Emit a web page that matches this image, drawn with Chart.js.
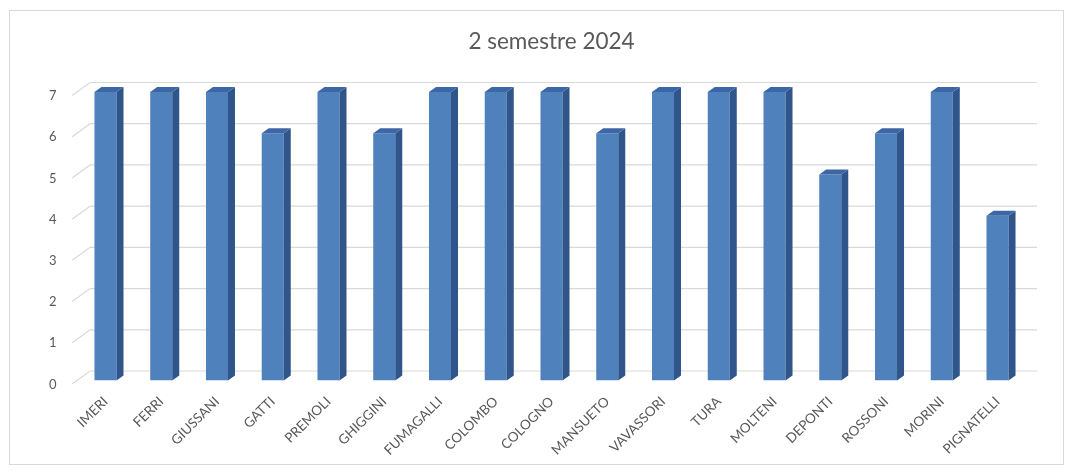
<!DOCTYPE html>
<html>
<head>
<meta charset="utf-8">
<script src="https://cdn.jsdelivr.net/npm/chart.js@4.4.1/dist/chart.umd.min.js"></script>
<style>
  html, body { margin: 0; padding: 0; background: #fff; }
  #wrap { position: relative; width: 1073px; height: 475px; }
</style>
</head>
<body>
<div id="wrap"><canvas id="semChart" width="1073" height="475"></canvas></div>
<script>
// Chart values
const names = ['IMERI', 'FERRI', 'GIUSSANI', 'GATTI', 'PREMOLI', 'GHIGGINI', 'FUMAGALLI', 'COLOMBO',
    'COLOGNO', 'MANSUETO', 'VAVASSORI', 'TURA', 'MOLTENI', 'DEPONTI', 'ROSSONI', 'MORINI', 'PIGNATELLI'];
const scores = [7, 7, 7, 6, 7, 6, 7, 7, 7, 6, 7, 7, 7, 5, 6, 7, 4];
const yTicks = [0, 1, 2, 3, 4, 5, 6, 7];

const FRONT = '#4f81bd';
const SIDE = '#30558b';
const TOP = '#3c66a4';
const GRID = '#d9d9d9';
const TEXT = '#595959';
const DEPTH_X = 7, DEPTH_Y = 5;

// chart frame + back-wall gridlines with the little oblique floor edge
const wallPlugin = {
    id: 'wall',
    beforeDraw(chart) {
        const ctx = chart.ctx;
        ctx.save();
        ctx.strokeStyle = GRID;
        ctx.lineWidth = 1;
        ctx.strokeRect(9.5, 10.5, 1054, 454);
        ctx.restore();
    },
    beforeDatasetsDraw(chart) {
        const ctx = chart.ctx;
        const area = chart.chartArea;
        const y = chart.scales.y;
        ctx.save();
        ctx.strokeStyle = GRID;
        ctx.lineWidth = 1.2;
        yTicks.forEach(v => {
            const yf = y.getPixelForValue(v) + 3.5;
            const yb = yf - 13;
            ctx.beginPath();
            ctx.moveTo(area.left - 5.5, yf);
            ctx.lineTo(area.left + 12.5, yb);
            ctx.lineTo(area.right + 11.5, yb);
            ctx.stroke();
        });
        ctx.restore();
    },
    afterDatasetsDraw(chart) {
        const ctx = chart.ctx;
        const meta = chart.getDatasetMeta(0);
        ctx.save();
        meta.data.forEach(bar => {
            const p = bar.getProps(['x', 'y', 'base', 'width'], true);
            const l = p.x - p.width / 2, r = p.x + p.width / 2;
            // side face
            ctx.fillStyle = SIDE;
            ctx.beginPath();
            ctx.moveTo(r, p.y);
            ctx.lineTo(r + DEPTH_X, p.y - DEPTH_Y);
            ctx.lineTo(r + DEPTH_X, p.base - DEPTH_Y);
            ctx.lineTo(r, p.base);
            ctx.closePath();
            ctx.fill();
            // top face
            ctx.fillStyle = TOP;
            ctx.beginPath();
            ctx.moveTo(l, p.y);
            ctx.lineTo(l + DEPTH_X, p.y - DEPTH_Y);
            ctx.lineTo(r + DEPTH_X, p.y - DEPTH_Y);
            ctx.lineTo(r, p.y);
            ctx.closePath();
            ctx.fill();
        });
        ctx.restore();
    }
};

new Chart(document.getElementById('semChart'), {
    type: 'bar',
    data: {
        labels: names,
        datasets: [{
            data: scores,
            backgroundColor: FRONT,
            borderWidth: 0,
            categoryPercentage: 1,
            barPercentage: 0.395
        }]
    },
    options: {
        responsive: false,
        animation: false,
        devicePixelRatio: 1,
        layout: { padding: { left: 0, right: 47.6, top: 0, bottom: 0 } },
        plugins: {
            legend: { display: false },
            tooltip: { enabled: false },
            title: {
                display: true,
                text: '2 semestre 2024',
                fullSize: false,
                color: TEXT,
                font: { family: 'Lato', size: 22.5, weight: 'normal' },
                padding: { top: 28, bottom: 37 }
            }
        },
        scales: {
            x: {
                grid: { display: false, drawTicks: false },
                border: { display: false },
                ticks: {
                    color: TEXT,
                    font: { family: 'Lato', size: 13.5 },
                    minRotation: 45,
                    maxRotation: 45,
                    padding: 13,
                    autoSkip: false
                },
                afterFit(scale) { scale.height = 94.5; }
            },
            y: {
                min: 0,
                max: 7,
                grid: { display: false, drawTicks: false },
                border: { display: false },
                afterBuildTicks(scale) { scale.ticks = yTicks.map(v => ({ value: v })); },
                ticks: {
                    color: TEXT,
                    font: { family: 'Lato', size: 13 },
                    padding: 21,
                    labelOffset: 4
                },
                afterFit(scale) { scale.width = 77.6; }
            }
        }
    },
    plugins: [wallPlugin]
});
</script>
</body>
</html>
